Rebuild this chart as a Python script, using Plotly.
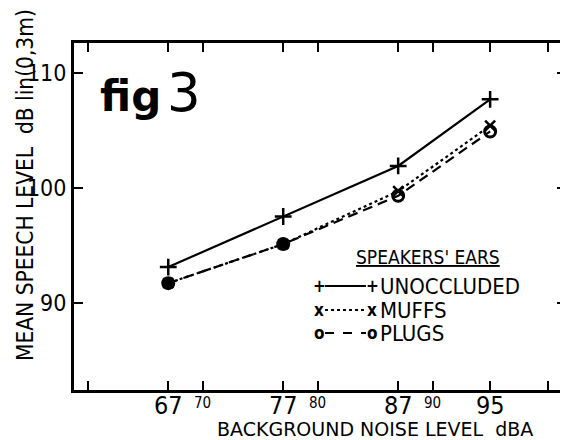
import plotly.graph_objects as go

# ---- data ----
noise_levels = [67, 77, 87, 95]
unoccluded = [93.1, 97.5, 101.9, 107.7]
muffs = [91.7, 95.1, 99.7, 105.4]
plugs = [91.7, 95.1, 99.3, 104.9]

x_tick_vals = [60, 67, 70, 77, 80, 87, 90, 95, 100]
x_major_ticks = [67, 77, 87, 95]
x_major_labels = ["67", "77", "87", "95"]
x_minor_ticks = [70, 80, 90]
x_minor_labels = ["70", "80", "90"]
y_tick_vals = [90, 100, 110]
y_tick_labels = ["90", "100", "110"]

legend_title = "SPEAKERS' EARS"
series_names = ["UNOCCLUDED", "MUFFS", "PLUGS"]

# ---- layout geometry (pixels, page offset of 8px compensated) ----
OFF = 8
W, H = 568 - OFF, 440 - OFF
L, R, T, B = 74 - OFF, 566 - OFF, 43 - OFF, 390 - OFF
def px(x):
    return (x - OFF - L) / (R - L)
def py(y):
    return (B - (y - OFF)) / (B - T)

NUM_FONT = "Liberation Sans Narrow, DejaVu Sans Condensed, sans-serif"
TXT_FONT = "DejaVu Sans Condensed, DejaVu Sans, sans-serif"

fig = go.Figure()

fig.add_trace(go.Scatter(
    x=noise_levels, y=unoccluded, mode="lines+markers", name=series_names[0],
    line=dict(color="black", width=2.2),
    marker=dict(symbol="cross-thin", size=12, line=dict(color="black", width=2.5)),
))
fig.add_trace(go.Scatter(
    x=noise_levels, y=muffs, mode="lines+markers", name=series_names[1],
    line=dict(color="black", width=2.2, dash="dot"),
    marker=dict(symbol="x-thin", size=10, line=dict(color="black", width=2.5)),
))
fig.add_trace(go.Scatter(
    x=noise_levels, y=plugs, mode="lines+markers", name=series_names[2],
    line=dict(color="black", width=2.2, dash="10px,6px"),
    marker=dict(symbol=["circle", "circle", "circle-open", "circle-open"], size=11,
                color="black", line=dict(color="black", width=3)),
))

fig.update_layout(
    template="none",
    width=W, height=H,
    margin=dict(l=L, r=W - R, t=T, b=H - B, pad=0),
    paper_bgcolor="white", plot_bgcolor="white",
    showlegend=False,
    font=dict(family=TXT_FONT, color="black"),
    xaxis=dict(
        range=[58.8, 101.6], tickmode="array", tickvals=x_tick_vals,
        ticktext=[""] * len(x_tick_vals), automargin=False,
        ticks="inside", ticklen=9, tickwidth=2, tickcolor="black",
        showline=True, linewidth=3, linecolor="black", mirror="ticks",
        showgrid=False, zeroline=False,
    ),
    yaxis=dict(
        range=[82.4, 112.6], tickmode="array", tickvals=y_tick_vals, ticktext=y_tick_labels,
        automargin=False,
        ticks="inside", ticklen=9, tickwidth=2, tickcolor="black",
        showline=True, linewidth=3, linecolor="black", mirror="ticks",
        showgrid=False, zeroline=False,
        tickfont=dict(family=NUM_FONT, size=23, color="black"),
    ),
)

ann = []
# x tick labels (large and small)
for v, t in zip(x_major_ticks, x_major_labels):
    ann.append(dict(text=t, x=v, y=py(405), xref="x", yref="paper", showarrow=False,
                    borderpad=0,
                    font=dict(size=25, family=NUM_FONT), xanchor="center", yanchor="middle"))
for v, t in zip(x_minor_ticks, x_minor_labels):
    ann.append(dict(text=t, x=v, y=py(403), xref="x", yref="paper", showarrow=False,
                    borderpad=0,
                    font=dict(size=15, family=NUM_FONT), xanchor="center", yanchor="middle"))
# axis titles
ann.append(dict(text="MEAN SPEECH LEVEL  dB lin(0,3m)", textangle=-90,
                x=px(25), y=py(185), xref="paper", yref="paper", showarrow=False,
                font=dict(size=22.5, family=TXT_FONT), xanchor="center", yanchor="middle"))
ann.append(dict(text="BACKGROUND NOISE LEVEL  dBA",
                x=px(375), y=py(429), xref="paper", yref="paper", showarrow=False,
                borderpad=0,
                font=dict(size=19, family="DejaVu Sans, sans-serif"),
                xanchor="center", yanchor="middle"))
# fig 3
ann.append(dict(text='<b>fig</b><span style="font-size:18px"> </span><span style="font-size:53px">3</span>',
                x=px(98), y=py(92), xref="paper", yref="paper", showarrow=False,
                font=dict(size=42, family="DejaVu Sans, sans-serif"),
                xanchor="left", yanchor="middle"))
# legend
ann.append(dict(text=f"<u>{legend_title}</u>", x=px(428), y=py(257), xref="paper", yref="paper",
                showarrow=False, font=dict(size=19, family=TXT_FONT),
                xanchor="center", yanchor="middle"))
rows = [(286, "+", "+", "solid"), (310, "x", "x", "dot"), (333, "o", "o", "dash")]
for (yy, m1, m2, dash), name in zip(rows, series_names):
    ann.append(dict(text=f"<b>{m1}</b>", x=px(319), y=py(yy), xref="paper", yref="paper",
                    showarrow=False, font=dict(size=17, family=TXT_FONT),
                    xanchor="center", yanchor="middle"))
    ann.append(dict(text=f"<b>{m2}</b>", x=px(372), y=py(yy), xref="paper", yref="paper",
                    showarrow=False, font=dict(size=17, family=TXT_FONT),
                    xanchor="center", yanchor="middle"))
    ann.append(dict(text=name, x=px(378), y=py(yy), xref="paper", yref="paper", showarrow=False,
                    font=dict(size=22, family=TXT_FONT), xanchor="left", yanchor="middle"))
    fig.add_shape(type="line", xref="paper", yref="paper",
                  x0=px(325), x1=px(366), y0=py(yy), y1=py(yy),
                  line=dict(color="black", width=2, dash=dash))

fig.update_layout(annotations=ann)
fig.write_html("out.html")
